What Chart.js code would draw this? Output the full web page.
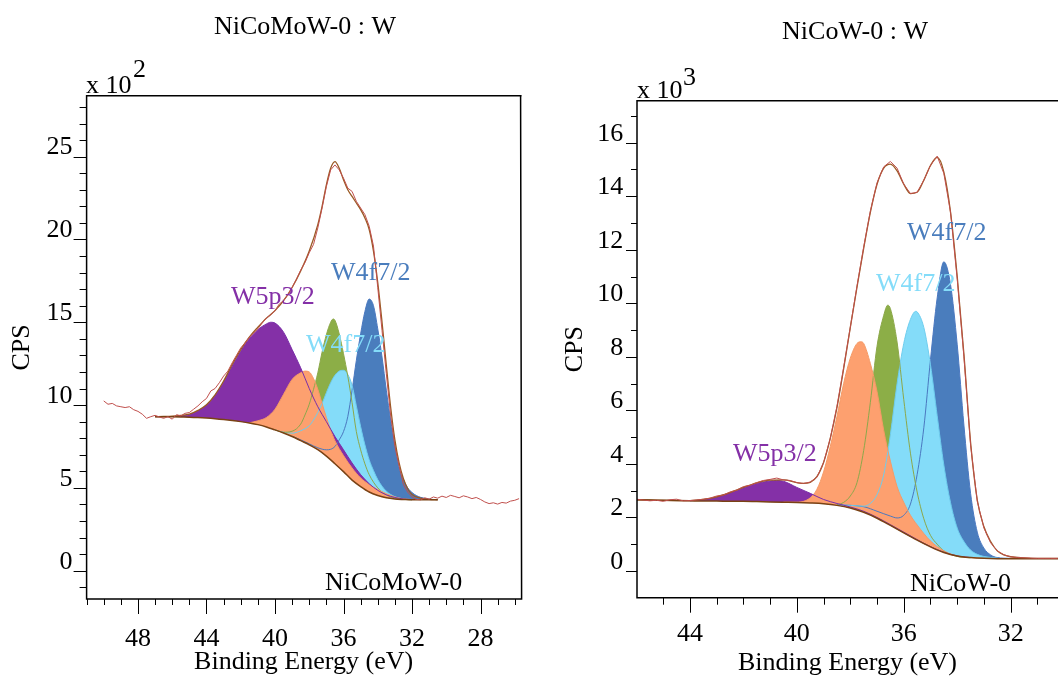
<!DOCTYPE html>
<html>
<head>
<meta charset="utf-8">
<title>W 4f / W 5p XPS fits</title>
<script src="https://cdn.jsdelivr.net/npm/chart.js@4.4.1/dist/chart.umd.min.js"></script>
<style>
  html, body { margin: 0; padding: 0; background: #fff; overflow: hidden; }
  #wrap { position: relative; width: 1058px; height: 679px; overflow: hidden; }
  canvas { position: absolute; top: 0; }
  #left { left: 0; }
  #right { left: 560px; }
</style>
</head>
<body>
<div id="wrap">
  <canvas id="left" width="540" height="679"></canvas>
  <canvas id="right" width="498" height="679"></canvas>
</div>
<script>
// ---- NiCoMoW-0 (CPS x 100), pairs of [binding energy eV, counts] ----
const mowEnergyTicks = [51,50,49,48,47,46,45,44,43,42,41,40,39,38,37,36,35,34,33,32,31,30,29,28,27,26];
const mowCountTicks = [-1,0,1,2,3,4,5,6,7,8,9,10,11,12,13,14,15,16,17,18,19,20,21,22,23,24,25,26,27,28];
const mowRaw = [
  [50.0,10.25],[49.75,10.05],[49.5,10.1],[49.25,9.95],[49.0,9.9],[48.75,9.85],[48.5,9.9],[48.25,9.72],
  [48.0,9.62],[47.75,9.45],[47.5,9.2],[47.25,9.3],[47.0,9.38],[46.75,9.28],[46.5,9.2],[46.25,9.3],
  [46.0,9.15],[45.75,9.42],[45.5,9.35],[45.25,9.5],[45.0,9.55],[44.75,9.75],[44.5,9.95],[44.25,10.2],
  [44.0,10.4],[43.75,10.85],[43.5,11.0],[43.25,11.35],[43.0,11.75],[42.75,12.05],[42.5,12.55],[42.25,13.0],
  [42.0,13.45],[41.75,13.75],[41.5,14.1],[41.25,14.35],[41.0,14.6],[40.75,14.95],[40.5,15.25],[40.25,15.45],
  [40.0,15.7],[39.75,16.1],[39.5,16.3],[39.25,16.65],[39.0,17.1],[38.75,17.6],[38.5,18.15],[38.25,18.6],
  [38.0,19.2],[37.75,19.7],[37.5,20.7],[37.25,21.9],[37.0,23.2],[36.75,24.2],[36.5,24.5],[36.25,24.2],
  [36.0,23.7],[35.75,23.1],[35.5,22.9],[35.25,22.3],[35.0,21.9],[34.75,21.5],[34.5,20.8],[34.25,19.6],
  [34.0,17.1],[33.75,14.5],[33.5,11.9],[33.25,9.4],[33.0,7.5],[32.75,6.3],[32.5,5.2],[32.25,4.75],
  [32.0,4.45],[31.75,4.3],[31.5,4.28],[31.25,4.4],[31.0,4.32],[30.75,4.45],[30.5,4.38],[30.25,4.5],
  [30.0,4.42],[29.75,4.55],[29.5,4.48],[29.25,4.4],[29.0,4.52],[28.75,4.45],[28.5,4.35],[28.25,4.42],
  [28.0,4.3],[27.75,4.15],[27.5,4.05],[27.25,4.1],[27.0,4.02],[26.75,4.12],[26.5,4.08],[26.25,4.2],
  [26.0,4.25],[25.75,4.35]
];
const mowEnvelope = [
  [47.0,9.30],[46.5,9.31],[46.0,9.33],[45.5,9.38],[45.0,9.45],[44.5,9.68],[44.0,10.02],[43.5,10.62],
  [43.0,11.45],[42.5,12.45],[42.0,13.35],[41.5,14.1],[41.0,14.7],[40.5,15.25],[40.0,15.7],[39.5,16.3],
  [39.0,17.1],[38.5,18.1],[38.0,19.3],[37.5,20.9],[37.25,22.0],[37.0,23.3],[36.75,24.3],[36.5,24.7],
  [36.25,24.3],[36.0,23.6],[35.75,23.0],[35.5,22.6],[35.25,22.2],[35.0,21.8],[34.75,21.3],[34.5,20.6],
  [34.25,19.3],[34.0,17.4],[33.75,15.0],[33.5,12.4],[33.25,9.9],[33.0,7.9],[32.75,6.5],[32.5,5.55],
  [32.25,4.95],[32.0,4.6],[31.5,4.38],[31.0,4.3],[30.5,4.28]
];
const mowBackground = [
  [47.0,9.30],[46.5,9.30],[46.0,9.29],[45.5,9.28],[45.0,9.27],[44.5,9.25],[44.0,9.22],[43.5,9.18],
  [43.0,9.13],[42.5,9.07],[42.0,9.00],[41.5,8.92],[41.0,8.82],[40.5,8.68],[40.0,8.50],[39.5,8.31],
  [39.0,8.10],[38.5,7.85],[38.0,7.60],[37.5,7.31],[37.0,6.92],[36.5,6.46],[36.0,5.98],[35.5,5.47],
  [35.0,5.08],[34.5,4.75],[34.0,4.54],[33.5,4.40],[33.0,4.33],[32.5,4.30],[32.0,4.28],[31.0,4.28],[30.5,4.28]
];
const mowW5p = [
  [47.0,9.30],[46.0,9.31],[45.5,9.34],[45.0,9.42],[44.5,9.65],[44.0,10.0],[43.5,10.6],[43.0,11.4],
  [42.5,12.35],[42.0,13.25],[41.5,14.0],[41.0,14.55],[40.5,14.9],[40.25,15.0],[40.0,14.95],[39.5,14.4],
  [39.0,13.35],[38.5,12.25],[38.0,11.0],[37.5,9.9],[37.0,9.0],[36.5,8.1],[36.0,7.3],[35.5,6.5],
  [35.0,5.8],[34.5,5.25],[34.0,4.85],[33.5,4.58],[33.0,4.42],[32.5,4.33],[32.0,4.29]
];
const mowOrange = [
  [41.5,8.93],[41.0,9.05],[40.5,9.25],[40.0,9.75],[39.5,10.65],[39.0,11.55],[38.5,11.95],[38.25,12.05],
  [38.0,12.0],[37.75,11.6],[37.5,10.95],[37.25,10.1],[37.0,9.25],[36.75,8.5],[36.5,7.85],[36.0,6.95],
  [35.5,6.2],[35.0,5.6],[34.5,5.2],[34.0,4.9],[33.5,4.65],[33.0,4.45],[32.5,4.34],[32.0,4.29]
];
const mowGreen = [
  [40.0,8.50],[39.5,8.36],[39.0,8.42],[38.5,8.85],[38.25,9.4],[38.0,10.05],[37.75,10.95],[37.5,11.95],
  [37.25,13.2],[37.0,14.25],[36.75,15.0],[36.6,15.2],[36.5,15.12],[36.25,14.3],[36.0,13.1],[35.75,11.75],
  [35.5,10.15],[35.25,8.4],[35.0,7.3],[34.75,6.45],[34.5,5.8],[34.0,5.0],[33.5,4.58],[33.0,4.39],
  [32.5,4.31],[32.0,4.28]
];
const mowW4fLight = [
  [40.0,8.50],[39.5,8.36],[39.0,8.3],[38.5,8.45],[38.0,8.75],[37.75,9.1],[37.5,9.55],[37.25,10.1],
  [37.0,10.75],[36.75,11.35],[36.5,11.8],[36.25,12.05],[36.0,12.1],[35.75,11.85],[35.5,11.2],[35.25,9.95],
  [35.0,8.7],[34.75,7.6],[34.5,6.7],[34.25,6.05],[34.0,5.5],[33.75,5.1],[33.5,4.8],[33.0,4.47],
  [32.5,4.33],[32.0,4.29]
];
const mowW4fDark = [
  [39.0,8.12],[38.5,7.9],[38.0,7.66],[37.5,7.42],[37.0,7.3],[36.75,7.33],[36.5,7.5],[36.25,7.9],
  [36.0,8.4],[35.75,9.3],[35.5,10.9],[35.25,12.7],[35.0,14.3],[34.75,15.65],[34.5,16.4],[34.25,16.0],
  [34.0,14.6],[33.75,12.9],[33.5,10.9],[33.25,9.1],[33.0,7.6],[32.75,6.2],[32.5,5.5],[32.25,5.0],
  [32.0,4.72],[31.75,4.54],[31.5,4.43],[31.0,4.32],[30.5,4.29]
];

// ---- NiCoW-0 (CPS x 1000) ----
const ncwEnergyTicks = [45,44,43,42,41,40,39,38,37,36,35,34,33,32,31];
const ncwCountTicks = [0,1,2,3,4,5,6,7,8,9,10,11,12,13,14,15,16,17];
const ncwRaw = [
  [46.0,2.68],[45.75,2.65],[45.5,2.62],[45.25,2.64],[45.0,2.6],[44.75,2.66],[44.5,2.68],[44.25,2.62],
  [44.0,2.63],[43.75,2.65],[43.5,2.68],[43.25,2.72],[43.0,2.8],[42.75,2.84],[42.5,2.95],[42.25,3.02],
  [42.0,3.15],[41.75,3.2],[41.5,3.3],[41.25,3.38],[41.0,3.42],[40.75,3.47],[40.5,3.4],[40.25,3.38],
  [40.0,3.3],[39.75,3.27],[39.5,3.32],[39.25,3.5],[39.0,4.05],[38.75,4.95],[38.5,6.15],[38.25,7.6],
  [38.0,9.1],[37.75,10.65],[37.5,12.1],[37.25,13.45],[37.0,14.5],[36.75,15.1],[36.5,15.3],[36.25,15.05],
  [36.0,14.45],[35.75,14.1],[35.5,14.15],[35.25,14.6],[35.0,15.15],[34.75,15.5],[34.5,14.85],[34.25,13.4],
  [34.0,10.9],[33.75,8.0],[33.5,4.7],[33.25,2.6],[33.0,1.6],[32.75,1.05],[32.5,0.75],[32.25,0.6],
  [32.0,0.53],[31.75,0.5],[31.5,0.49],[31.25,0.48],[31.0,0.47],[30.75,0.47],[30.5,0.47],[30.25,0.47],[30.0,0.47]
];
const ncwEnvelope = [
  [46.0,2.66],[45.0,2.64],[44.0,2.63],[43.5,2.67],[43.0,2.77],[42.5,2.93],[42.0,3.12],[41.5,3.29],
  [41.0,3.39],[40.5,3.40],[40.0,3.30],[39.75,3.27],[39.5,3.31],[39.25,3.52],[39.0,4.05],[38.75,4.95],
  [38.5,6.1],[38.25,7.55],[38.0,9.1],[37.75,10.6],[37.5,12.05],[37.25,13.4],[37.0,14.45],[36.75,15.05],
  [36.5,15.2],[36.25,14.95],[36.0,14.45],[35.75,14.1],[35.5,14.15],[35.25,14.6],[35.0,15.15],[34.75,15.45],
  [34.5,14.9],[34.25,13.4],[34.0,11.0],[33.75,8.1],[33.5,4.8],[33.25,2.65],[33.0,1.65],[32.75,1.1],
  [32.5,0.75],[32.25,0.6],[32.0,0.53],[31.5,0.49],[31.0,0.47],[30.0,0.47]
];
const ncwBackground = [
  [46.0,2.66],[45.5,2.65],[45.0,2.64],[44.5,2.63],[44.0,2.62],[43.5,2.61],[43.0,2.61],[42.5,2.60],
  [42.0,2.60],[41.5,2.59],[41.0,2.58],[40.5,2.57],[40.0,2.56],[39.5,2.54],[39.0,2.51],[38.5,2.45],
  [38.0,2.35],[37.5,2.19],[37.0,1.97],[36.5,1.70],[36.0,1.42],[35.5,1.15],[35.0,0.90],[34.5,0.69],
  [34.0,0.56],[33.5,0.50],[33.0,0.47],[32.5,0.46],[32.0,0.46],[31.0,0.46],[30.0,0.46]
];
const ncwW5p = [
  [44.0,2.62],[43.5,2.66],[43.0,2.76],[42.5,2.92],[42.0,3.10],[41.5,3.27],[41.0,3.36],[40.75,3.38],
  [40.5,3.35],[40.0,3.12],[39.5,2.90],[39.0,2.67],[38.5,2.52],[38.0,2.39],[37.5,2.23],[37.0,2.00],
  [36.5,1.73],[36.0,1.45],[35.5,1.17],[35.0,0.91],[34.5,0.70],[34.0,0.56],[33.5,0.50]
];
const ncwOrange = [
  [40.5,2.57],[40.0,2.57],[39.5,2.73],[39.25,3.05],[39.0,3.7],[38.75,4.65],[38.5,5.77],[38.25,7.0],
  [38.0,7.95],[37.75,8.5],[37.6,8.56],[37.5,8.5],[37.25,7.75],[37.0,6.7],[36.75,5.25],[36.5,4.1],
  [36.25,3.15],[36.0,2.56],[35.75,2.08],[35.5,1.72],[35.0,1.12],[34.5,0.75],[34.0,0.56],[33.5,0.5],[33.0,0.47]
];
const ncwGreen = [
  [38.5,2.47],[38.25,2.56],[38.0,2.8],[37.75,3.3],[37.5,4.5],[37.25,6.3],[37.0,8.4],[36.75,9.55],
  [36.6,9.93],[36.5,9.8],[36.25,8.55],[36.0,6.4],[35.75,4.4],[35.5,2.95],[35.25,1.95],[35.0,1.33],
  [34.75,1.0],[34.5,0.75],[34.0,0.54],[33.5,0.49]
];
const ncwW4fLight = [
  [38.5,2.47],[38.0,2.45],[37.5,2.42],[37.25,2.52],[37.0,2.85],[36.75,3.6],[36.5,5.1],[36.25,7.0],
  [36.0,8.5],[35.75,9.4],[35.55,9.7],[35.5,9.68],[35.25,9.1],[35.0,7.7],[34.75,5.8],[34.5,3.95],
  [34.25,2.55],[34.0,1.6],[33.75,1.1],[33.5,0.78],[33.25,0.62],[33.0,0.54],[32.5,0.48]
];
const ncwW4fDark = [
  [38.5,2.47],[37.5,2.40],[37.0,2.23],[36.5,2.05],[36.25,1.98],[36.0,2.08],[35.75,2.5],[35.5,3.6],
  [35.25,5.35],[35.0,7.9],[34.75,10.2],[34.5,11.55],[34.25,10.7],[34.0,8.45],[33.75,5.45],[33.5,2.9],
  [33.25,1.45],[33.0,0.85],[32.75,0.6],[32.5,0.5],[32.0,0.47]
];

const PURPLE = '#8430a7', ORANGE = '#fda06f', GREEN = '#8cae47', LIGHT = '#84dcf9', DARK = '#4a7dbd';
const SERIF = "'Liberation Serif', 'Times New Roman', serif";
Chart.defaults.font.family = SERIF;
Chart.defaults.color = '#000';

const toXY = pairs => pairs.map(([x, y]) => ({ x, y }));

// fills are layered: dark blue at the back, orange on top; outlines go over all fills
function buildDatasets(s) {
  const sets = [{ label: 'Background', data: toXY(s.bg), borderColor: '#7a4214', borderWidth: 1.5, order: 1 }];
  s.peaks.forEach(p => sets.push({
    label: p.name + ' area', data: toXY(p.data), borderWidth: 0,
    backgroundColor: p.fill, fill: { target: 0 }, order: 10 + p.layer
  }));
  s.peaks.forEach(p => sets.push({
    label: p.name, data: toXY(p.data), borderColor: p.line, borderWidth: 1, order: 2
  }));
  sets.push({ label: 'Envelope', data: toXY(s.env), borderColor: '#9a5a24', borderWidth: 1.3, order: 1 });
  sets.push({ label: 'Raw', data: toXY(s.raw), borderColor: '#c0504d', borderWidth: 1,
    cubicInterpolationMode: 'default', tension: 0, order: 0 });
  return sets;
}

const frame = {
  id: 'frame',
  afterDraw(chart, args, o) {
    const { ctx, chartArea: a } = chart;
    const x = chart.scales.x, y = chart.scales.y;
    ctx.save();
    ctx.strokeStyle = '#000';
    ctx.lineWidth = 1;
    ctx.beginPath();
    x.ticks.forEach(t => {
      const px = Math.round(x.getPixelForValue(t.value)) + 0.5;
      if (px < a.left || px > a.right) return;
      const len = t.value % o.xMajor === 0 ? o.xLong : o.xShort;
      ctx.moveTo(px, a.bottom); ctx.lineTo(px, a.bottom + len);
    });
    y.ticks.forEach(t => {
      const py = Math.round(y.getPixelForValue(t.value)) + 0.5;
      if (py < a.top || py > a.bottom) return;
      const len = t.value % o.yMajor === 0 ? o.yLong : o.yShort;
      ctx.moveTo(a.left, py); ctx.lineTo(a.left - len, py);
    });
    ctx.stroke();
    ctx.lineWidth = 1.5;
    ctx.beginPath();
    ctx.moveTo(a.right + 1, a.top);
    ctx.lineTo(a.left, a.top);
    ctx.lineTo(a.left, a.bottom);
    ctx.lineTo(a.right + 1, a.bottom);
    if (o.closed) ctx.lineTo(a.right, a.top);
    ctx.stroke();
    ctx.textBaseline = 'alphabetic';
    o.texts.forEach(t => {
      ctx.font = '26px ' + SERIF;
      ctx.fillStyle = t.color || '#000';
      ctx.textAlign = t.align || 'left';
      ctx.fillText(t.text, t.x, t.y);
    });
    ctx.restore();
  }
};

function makeChart(id, p) {
  return new Chart(document.getElementById(id), {
    type: 'line',
    data: { datasets: buildDatasets(p.series) },
    plugins: [frame],
    options: {
      responsive: false,
      animation: false,
      events: [],
      layout: { padding: { top: p.top, right: p.right, bottom: 0, left: 0 } },
      elements: {
        point: { radius: 0 },
        line: { cubicInterpolationMode: 'monotone', borderJoinStyle: 'round' }
      },
      scales: {
        x: {
          type: 'linear', reverse: true, bounds: 'data', min: p.xMin, max: p.xMax,
          grid: { display: false, drawTicks: false }, border: { display: false },
          afterBuildTicks: s => { s.ticks = p.xTicks.map(v => ({ value: v })); },
          ticks: { autoSkip: false, maxRotation: 0, padding: p.xPad, font: { size: 26 },
            callback: v => (v % 4 === 0 ? String(v) : '') },
          title: { display: true, text: 'Binding Energy (eV)', font: { size: 26 },
            padding: { top: 0, bottom: p.xTitlePad } },
          afterFit: s => { s.height = p.xHeight; }
        },
        y: {
          type: 'linear', bounds: 'data', min: p.yMin, max: p.yMax,
          grid: { display: false, drawTicks: false }, border: { display: false },
          afterBuildTicks: s => { s.ticks = p.yTicks.map(v => ({ value: v })); },
          ticks: { autoSkip: false, padding: p.yPad, labelOffset: -9, font: { size: 26 },
            callback: v => (v % p.yMajor === 0 ? String(v) : '') },
          title: { display: true, text: 'CPS', font: { size: 26 },
            padding: { top: p.yTitlePad, bottom: 0 } },
          afterFit: s => { s.width = p.yWidth; }
        }
      },
      plugins: {
        legend: { display: false },
        tooltip: { enabled: false },
        frame: p.frame
      }
    }
  });
}

makeChart('left', {
  series: {
    bg: mowBackground, env: mowEnvelope, raw: mowRaw,
    peaks: [
      { name: 'W5p3/2', data: mowW5p, fill: PURPLE, line: '#7a2ea8', layer: 1 },
      { name: 'W4f5/2 ox', data: mowOrange, fill: ORANGE, line: '#f59a66', layer: 0 },
      { name: 'W4f5/2', data: mowGreen, fill: GREEN, line: '#8ca84a', layer: 3 },
      { name: 'W4f7/2 ox', data: mowW4fLight, fill: LIGHT, line: '#6fcdee', layer: 2 },
      { name: 'W4f7/2', data: mowW4fDark, fill: DARK, line: '#4a78c0', layer: 4 }
    ]
  },
  xTicks: mowEnergyTicks, yTicks: mowCountTicks,
  top: 95.7, right: 17, xMin: 25.66, xMax: 51.0, yMin: -1.71, yMax: 28.68, yMajor: 5,
  xPad: 25, xTitlePad: 1, xHeight: 80, yPad: 14, yTitlePad: 6.4, yWidth: 86.6,
  frame: {
    closed: true, xMajor: 4, xLong: 15, xShort: 6, yMajor: 5, yLong: 13, yShort: 7,
    texts: [
      { text: 'NiCoMoW-0 : W', x: 305, y: 34, align: 'center' },
      { text: 'x 10', x: 86, y: 93 },
      { text: '2', x: 133, y: 77 },
      { text: 'NiCoMoW-0', x: 325, y: 590 },
      { text: 'W5p3/2', x: 231, y: 304, color: PURPLE },
      { text: 'W4f7/2', x: 331, y: 280, color: DARK },
      { text: 'W4f7/2', x: 306, y: 352, color: LIGHT }
    ]
  }
});

makeChart('right', {
  series: {
    bg: ncwBackground, env: ncwEnvelope, raw: ncwRaw,
    peaks: [
      { name: 'W5p3/2', data: ncwW5p, fill: PURPLE, line: '#7a2ea8', layer: 1 },
      { name: 'W4f5/2 ox', data: ncwOrange, fill: ORANGE, line: '#f59a66', layer: 0 },
      { name: 'W4f5/2', data: ncwGreen, fill: GREEN, line: '#8ca84a', layer: 3 },
      { name: 'W4f7/2 ox', data: ncwW4fLight, fill: LIGHT, line: '#6fcdee', layer: 2 },
      { name: 'W4f7/2', data: ncwW4fDark, fill: DARK, line: '#4a78c0', layer: 4 }
    ]
  },
  xTicks: ncwEnergyTicks, yTicks: ncwCountTicks,
  top: 100.7, right: 0, xMin: 30.23, xMax: 45.98, yMin: -1.0, yMax: 17.57, yMajor: 2,
  xPad: 20.4, xTitlePad: 0, xHeight: 81.3, yPad: 13.7, yTitlePad: 0, yWidth: 77,
  frame: {
    closed: false, xMajor: 4, xLong: 15, xShort: 7, yMajor: 2, yLong: 11, yShort: 6,
    texts: [
      { text: 'NiCoW-0 : W', x: 295, y: 39, align: 'center' },
      { text: 'x 10', x: 77, y: 98 },
      { text: '3', x: 123, y: 85 },
      { text: 'NiCoW-0', x: 350, y: 591 },
      { text: 'W4f7/2', x: 347, y: 240, color: DARK },
      { text: 'W4f7/2', x: 316, y: 291, color: LIGHT },
      { text: 'W5p3/2', x: 173, y: 461, color: PURPLE }
    ]
  }
});
</script>
</body>
</html>
